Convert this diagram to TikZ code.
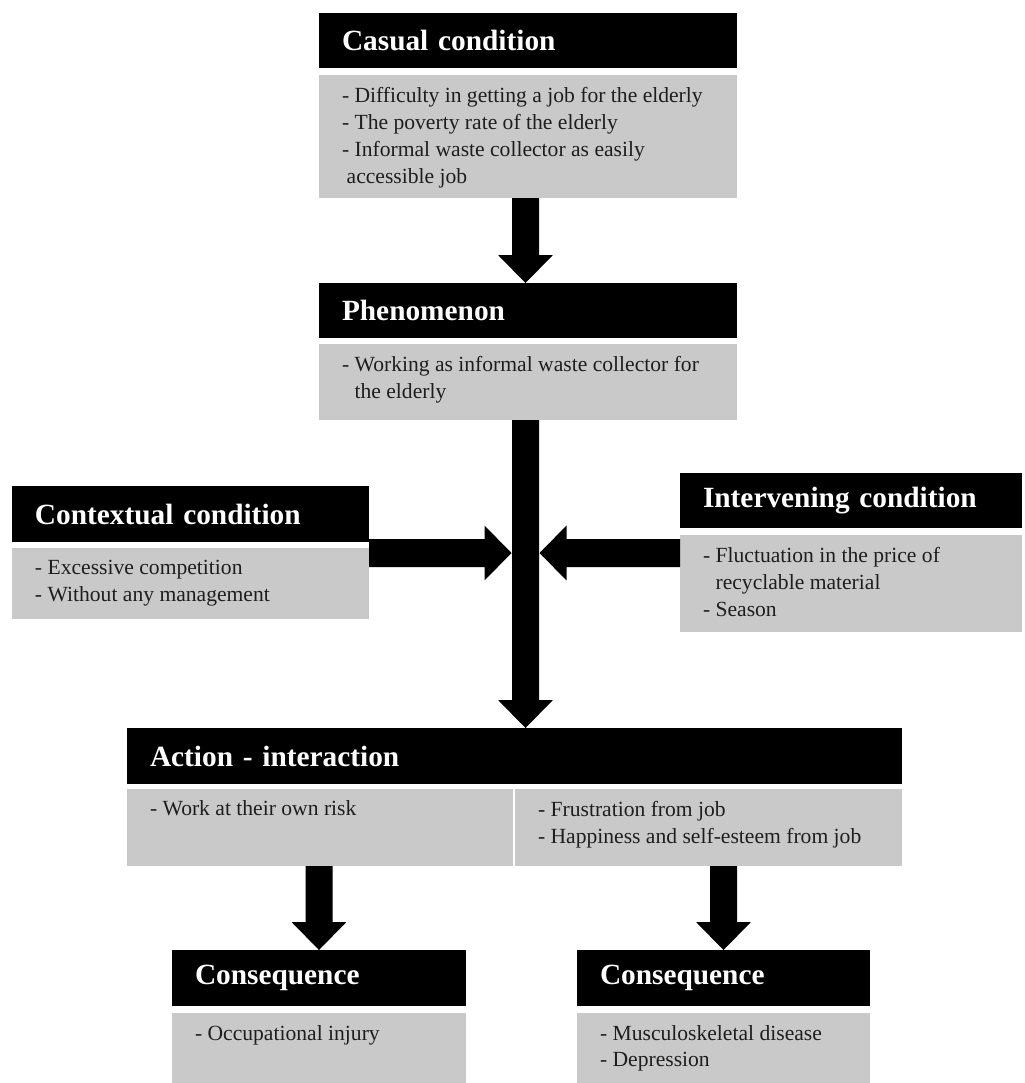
\documentclass[tikz,border=0pt]{standalone}
\usepackage{fontspec}
\setmainfont{Liberation Serif}
\usetikzlibrary{calc}
\definecolor{boxgray}{HTML}{C9C9C9}
\definecolor{bodytext}{HTML}{1E1E1E}
\tikzset{
  hdr/.style={fill=black, text=white, anchor=north west, inner xsep=17.25pt, inner ysep=0pt, outer sep=0pt, align=left,
    font=\fontsize{22pt}{26pt}\selectfont\bfseries},
  gbox/.style={fill=boxgray, anchor=north west, inner sep=0pt, outer sep=0pt},
  btext/.style={anchor=north west, inner sep=0pt, outer sep=0pt, align=left, text=bodytext,
    font=\fontsize{16.2pt}{20.2pt}\selectfont},
}
% header: name, x1, y1, x2, y2, text
\newcommand{\hdrnode}[6]{\node[hdr, text width={(#4-#2-46)*0.75pt}, minimum height={(#5-#3)*0.75pt}] (#1) at (#2,#3) {#6};}
% gray body: name, x1, y1, x2, y2, text
\newcommand{\bodynode}[6]{%
  \node[gbox, minimum width={(#4-#2)*0.75pt}, minimum height={(#5-#3)*0.75pt}] (#1) at (#2,#3) {};
  \node[btext] (#1t) at ($(#1.north west)+(23,12)$) {#6};}
\newcommand{\downblk}[2]{\fill let \p1=#1, \p2=#2 in
  (\x1-10.125pt,\y1) -- (\x1+10.125pt,\y1) -- (\x1+10.125pt,\y2+21pt) -- (\x1+20.6pt,\y2+21pt)
  -- (\x1,\y2) -- (\x1-20.6pt,\y2+21pt) -- (\x1-10.125pt,\y2+21pt) -- cycle;}
\newcommand{\rightblk}[2]{\fill let \p1=#1, \p2=#2 in
  (\x1,\y1+10.5pt) -- (\x2-20.25pt,\y1+10.5pt) -- (\x2-20.25pt,\y1+20.6pt) -- (\x2,\y1)
  -- (\x2-20.25pt,\y1-20.6pt) -- (\x2-20.25pt,\y1-10.5pt) -- (\x1,\y1-10.5pt) -- cycle;}
\newcommand{\leftblk}[2]{\fill let \p1=#1, \p2=#2 in
  (\x1,\y1+10.5pt) -- (\x2+20.25pt,\y1+10.5pt) -- (\x2+20.25pt,\y1+20.6pt) -- (\x2,\y1)
  -- (\x2+20.25pt,\y1-20.6pt) -- (\x2+20.25pt,\y1-10.5pt) -- (\x1,\y1-10.5pt) -- cycle;}

\begin{document}
\begin{tikzpicture}[x=0.75pt, y=-0.75pt]
\useasboundingbox (0,0) rectangle (1025,1083);

% Casual condition
\hdrnode{cash}{319}{13}{737}{68}{Casual condition}
\bodynode{casb}{319}{75}{737}{198}{- Difficulty in getting a job for the elderly\\
- The poverty rate of the elderly\\
- Informal waste collector as easily\\
\hspace*{3.5pt}accessible job}

% Phenomenon
\hdrnode{phenh}{319}{283}{737}{338}{Phenomenon}
\bodynode{phenb}{319}{344}{737}{420}{- Working as informal waste collector for\\
\phantom{- }the elderly}

% Contextual condition
\hdrnode{ctxh}{12}{486}{369}{542}{Contextual condition}
\bodynode{ctxb}{12}{548}{369}{619}{- Excessive competition\\
- Without any management}

% Intervening condition
\hdrnode{inth}{680}{473}{1022}{528}{Intervening condition}
\bodynode{intb}{680}{535}{1022}{632}{- Fluctuation in the price of\\
\phantom{- }recyclable material\\
- Season}

% Action - interaction
\hdrnode{acth}{127}{728}{902}{784}{Action - interaction}
\bodynode{actbl}{127}{789}{513}{866}{- Work at their own risk}
\bodynode{actbr}{515}{789}{902}{866}{- Frustration from job\\
- Happiness and self-esteem from job}

% Consequences
\hdrnode{conlh}{172}{950}{466}{1006}{Consequence}
\bodynode{conlb}{172}{1013}{466}{1083}{- Occupational injury}
\hdrnode{conrh}{577}{950}{870}{1006}{Consequence}
\bodynode{conrb}{577}{1013}{870}{1083}{- Musculoskeletal disease\\
- Depression}

% connector end points
\coordinate (castop) at ($(casb.south)+(-2.5,0)$);
\coordinate (spinetop) at ($(phenb.south)+(-2.5,0)$);
\coordinate (ctxout) at ($(ctxh.south east)+(0,11)$);
\coordinate (intout) at ($(inth.south west)+(0,25)$);
\coordinate (jl) at ($(spinetop |- ctxout)+(-14,0)$);
\coordinate (jr) at ($(spinetop |- intout)+(14,0)$);

% arrows
\downblk{(castop)}{(castop |- phenh.north)}
\downblk{(spinetop)}{(spinetop |- acth.north)}
\rightblk{(ctxout)}{(jl)}
\leftblk{(intout)}{(jr)}
\downblk{(actbl.south -| conlh.north)}{(conlh.north)}
\downblk{(actbr.south -| conrh.north)}{(conrh.north)}
\end{tikzpicture}
\end{document}
